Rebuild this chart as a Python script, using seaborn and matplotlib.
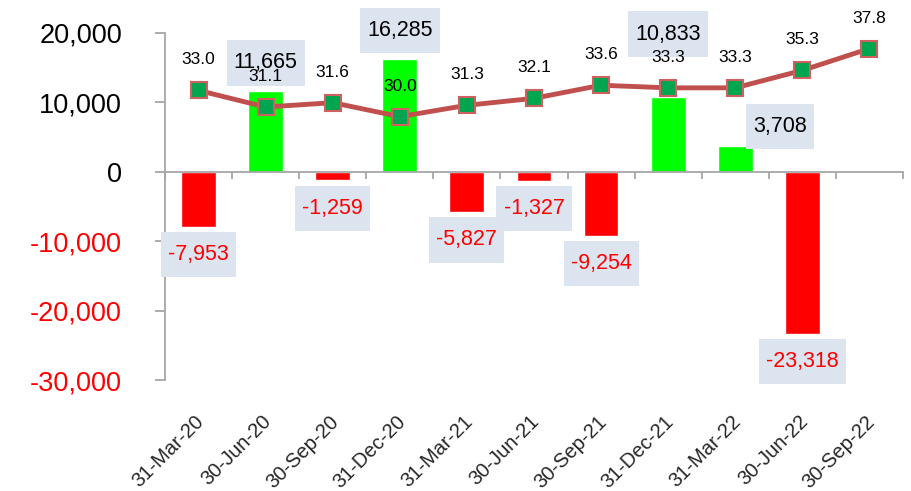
import numpy as np
import pandas as pd
import matplotlib.pyplot as plt
import seaborn as sns
from matplotlib.ticker import FuncFormatter
from matplotlib.transforms import ScaledTranslation

dates = ['31-Mar-20', '30-Jun-20', '30-Sep-20', '31-Dec-20', '31-Mar-21', '30-Jun-21',
         '30-Sep-21', '31-Dec-21', '31-Mar-22', '30-Jun-22', '30-Sep-22']
net_values = [-7953, 11665, -1259, 16285, -5827, -1327, -9254, 10833, 3708, -23318, np.nan]
ratio_values = [33.0, 31.1, 31.6, 30.0, 31.3, 32.1, 33.6, 33.3, 33.3, 35.3, 37.8]
y_ticks = [-30000, -20000, -10000, 0, 10000, 20000]

# offsets (points) of the bar value boxes from the bar end
bar_label_offsets = [(0, -20), (0, 20), (0, -20), (0, 20), (0, -20), (0, -20),
                     (0, -20), (0, 45), (32, 14), (0, -20), (0, 0)]

sns.set_style('white')
plt.rcParams['font.family'] = ['Liberation Sans', 'DejaVu Sans']

df = pd.DataFrame({'date': dates, 'value': net_values, 'ratio': ratio_values,
                   'pos': np.arange(len(dates))})
df['sign'] = np.where(df['value'] < 0, 'neg', 'pos')

fig = plt.figure(figsize=(9.12, 4.91), dpi=100)
ax = fig.add_axes([0.181, 0.226, 0.809, 0.707])

sns.barplot(data=df, x='date', y='value', hue='sign', order=dates,
            palette={'pos': '#00FF00', 'neg': '#FF0000'}, dodge=False, saturation=1,
            width=0.52, errorbar=None, legend=False, ax=ax, zorder=2)

ax.set_xlim(-0.5, len(dates) - 0.5)
ax.set_ylim(-30000, 20000)
ax.set_yticks(y_ticks)
ax.yaxis.set_major_formatter(FuncFormatter(lambda v, p: f'{int(v):,}'))
ax.set_xlabel('')
ax.set_ylabel('')

axis_gray = '#A6A6A6'
for s in ['top', 'right']:
    ax.spines[s].set_visible(False)
ax.spines['left'].set_color(axis_gray)
ax.spines['left'].set_linewidth(1.3)
ax.spines['bottom'].set_color(axis_gray)
ax.spines['bottom'].set_linewidth(1.3)
ax.spines['bottom'].set_position(('data', 0))

ax.tick_params(axis='y', direction='out', length=7, width=1.3, color=axis_gray,
               labelsize=19.5, pad=24, left=True)
for lbl in ax.get_yticklabels():
    lbl.set_color('#FF0000' if lbl.get_position()[1] < 0 else 'black')

ax.set_xticks(np.arange(len(dates)))
ax.set_xticks(np.arange(-0.5, len(dates), 1), minor=True)
ax.set_xticklabels(dates, rotation=45, ha='right', rotation_mode='anchor')
ax.tick_params(axis='x', which='major', length=0, pad=173, labelsize=14.5)
ax.tick_params(axis='x', which='minor', direction='out', length=5, width=1.3,
               color=axis_gray, bottom=True)
for lbl in ax.get_xticklabels():
    lbl.set_transform(lbl.get_transform() + ScaledTranslation(-3 / 72, 0, fig.dpi_scale_trans))

# value boxes on the bars
for i, (v, off) in enumerate(zip(net_values, bar_label_offsets)):
    if np.isnan(v):
        continue
    ax.annotate(f'{int(v):,}', xy=(i, v), xytext=off, textcoords='offset points',
                ha='center', va='center', fontsize=15.5,
                color='#FF0000' if v < 0 else 'black', zorder=3,
                bbox=dict(boxstyle='square,pad=0.33', fc='#DCE4F0', ec='none',
                          mutation_aspect=1.7))

# ratio line on a hidden secondary axis
ax2 = ax.twinx()
sns.lineplot(data=df, x='pos', y='ratio', ax=ax2, color='#C0504D', linewidth=3.5,
             marker='s', markersize=11, markerfacecolor='#00A550',
             markeredgecolor='#D06060', markeredgewidth=1.5)
ax2.set_ylim(-0.2, 39.6)
ax2.set_xlim(-0.5, len(dates) - 0.5)
ax2.set_yticks([])
ax2.set_ylabel('')
ax2.set_xlabel('')
for s in ax2.spines.values():
    s.set_visible(False)

for i, r in enumerate(ratio_values):
    ax2.annotate(f'{r:.1f}', xy=(i, r), xytext=(0, 22), textcoords='offset points',
                 ha='center', va='center', fontsize=12.5, color='black')

fig.savefig('out.png', dpi=100)
